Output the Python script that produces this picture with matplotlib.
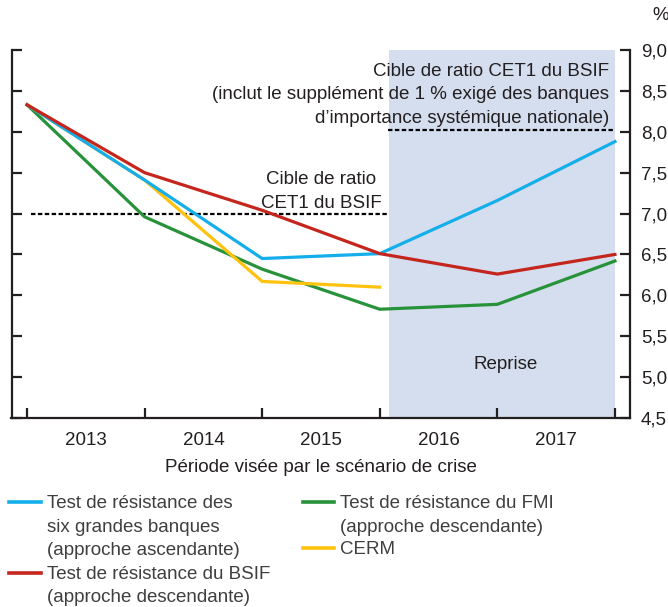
import matplotlib
matplotlib.use("Agg")
import matplotlib.pyplot as plt
from matplotlib.lines import Line2D

plt.rcParams['font.family'] = ['Liberation Sans', 'DejaVu Sans']

# ---- data ----
years = ["2013", "2014", "2015", "2016", "2017"]
x_points = [0, 1, 2, 3, 4, 5]           # year boundaries
six_banks = [8.33, 7.41, 6.45, 6.51, 7.16, 7.88]
bsif = [8.33, 7.50, 7.04, 6.51, 6.26, 6.50]
fmi = [8.33, 6.96, 6.32, 5.83, 5.89, 6.42]
cerm_x = [0, 1, 2, 3]
cerm = [8.33, 7.41, 6.17, 6.10]
target_low = 7.0
target_high = 8.02
yticks = [4.5, 5.0, 5.5, 6.0, 6.5, 7.0, 7.5, 8.0, 8.5, 9.0]
ytick_labels = ["4,5", "5,0", "5,5", "6,0", "6,5", "7,0", "7,5", "8,0", "8,5", "9,0"]

labels = ["Test de résistance des\nsix grandes banques\n(approche ascendante)",
          "Test de résistance du BSIF\n(approche descendante)",
          "Test de résistance du FMI\n(approche descendante)",
          "CERM"]

c_blue = "#14AEEA"
c_red = "#C4261D"
c_green = "#27923A"
c_yellow = "#FFC20E"
c_shade = "#D4DEEF"
c_text = "#231F20"
c_leg = "#3F3F3F"

FS = 13.5
LS = 1.5

W, H = 668, 607
fig = plt.figure(figsize=(W / 100, H / 100), dpi=100)
ax = fig.add_axes([11.5 / W, (H - 418) / H, (630 - 11.5) / W, (418 - 50) / H])

ax.set_xlim(-0.132, 5.128)
ax.set_ylim(4.5, 9.0)

# shaded recovery period
ax.axvspan(3.08, 5.0, color=c_shade, lw=0, zorder=0)

# target lines
ax.plot([0.03, 3.07], [target_low, target_low], color="black", lw=1.6,
        dashes=(2, 1.1), zorder=2)
ax.plot([3.07, 5.0], [target_high, target_high], color="black", lw=1.6,
        dashes=(2, 1.1), zorder=2)

lw = 2.3
ax.plot(x_points, fmi, color=c_green, lw=lw, zorder=3, solid_joinstyle='miter')
ax.plot(cerm_x, cerm, color=c_yellow, lw=lw, zorder=3, solid_joinstyle='miter')
ax.plot(x_points, six_banks, color=c_blue, lw=lw, zorder=4, solid_joinstyle='miter')
ax.plot(x_points, bsif, color=c_red, lw=lw, zorder=5, solid_joinstyle='miter')

# spines
ax.spines["top"].set_visible(False)
for s in ["left", "right", "bottom"]:
    ax.spines[s].set_linewidth(1.6)
    ax.spines[s].set_color(c_text)

# y ticks on right, inward ticks on both sides
ax.set_yticks(yticks)
ax.set_yticklabels(ytick_labels)
ax.tick_params(axis="y", which="both", direction="in", length=7, width=1.6,
               left=True, right=True, labelleft=False, labelright=True,
               labelsize=FS, pad=8, colors=c_text)

# x ticks at boundaries, labels centered
ax.set_xticks(x_points)
ax.set_xticklabels([])
ax.tick_params(axis="x", which="major", direction="in", length=7, width=1.6,
               colors=c_text)
ax.set_xticks([i + 0.5 for i in range(len(years))], minor=True)
ax.set_xticklabels(years, minor=True)
ax.tick_params(axis="x", which="minor", length=0, labelsize=FS, pad=10,
               colors=c_text)

ax.set_xlabel("Période visée par le scénario de crise", fontsize=FS,
              color=c_text, labelpad=7)

# annotations
ax.text(4.95, 8.45, "Cible de ratio CET1 du BSIF\n(inclut le supplément de 1 % exigé des banques\nd’importance systémique nationale)",
        ha="right", va="center", fontsize=FS, color=c_text, linespacing=LS)
ax.text(2.5, 7.27, "Cible de ratio\nCET1 du BSIF", ha="center", va="center",
        fontsize=FS, color=c_text, linespacing=LS)
ax.text(4.07, 5.16, "Reprise", ha="center", va="center", fontsize=FS,
        color=c_text)
fig.text(652 / W, 1 - 16 / H, "%", ha="left", va="center", fontsize=FS,
         color=c_text)

# legend (manual)
entries = [
    (9, 41, 47, 502, c_blue, labels[0]),
    (9, 41, 47, 573, c_red, labels[1]),
    (303, 334, 340, 502, c_green, labels[2]),
    (303, 334, 340, 548, c_yellow, labels[3]),
]
for x0, x1, xt, y, col, lab in entries:
    fig.add_artist(Line2D([x0 / W, x1 / W], [1 - y / H, 1 - y / H], color=col,
                          lw=2.6, transform=fig.transFigure))
    fig.text(xt / W, 1 - (y - 7) / H, lab, ha="left", va="top", fontsize=FS,
             color=c_leg, linespacing=LS)

fig.savefig("out.png", dpi=100)
